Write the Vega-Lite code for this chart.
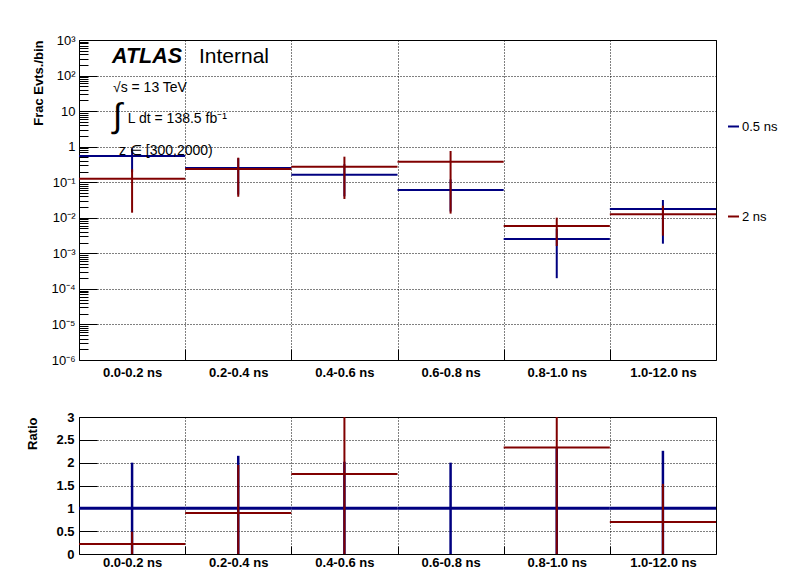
{
  "$schema": "https://vega.github.io/schema/vega-lite/v6.json",
  "autosize": {"type": "pad"},
  "padding": {"left": 26, "top": 33, "right": 0, "bottom": 0},
  "background": "white",
  "config": {
    "font": "Liberation Sans",
    "view": {"stroke": "black", "strokeWidth": 1},
    "axis": {"gridColor": "black", "gridDash": [1, 2], "gridWidth": 1, "gridOpacity": 1, "tickColor": "black", "tickWidth": 1, "labelColor": "black", "titleColor": "black", "domain": false, "labelFont": "Liberation Sans", "titleFont": "Liberation Sans"},
    "legend": {"labelFont": "Liberation Sans"}
  },
  "datasets": {
    "top": [
      {"bin": "0.0-0.2 ns", "i0": 0, "i1": 1, "mid": 0.5, "series": "0.5 ns", "val": 0.547, "lo": 0.19, "hi": 0.9},
      {"bin": "0.2-0.4 ns", "i0": 1, "i1": 2, "mid": 1.5, "series": "0.5 ns", "val": 0.25, "lo": 0.045, "hi": 0.471},
      {"bin": "0.4-0.6 ns", "i0": 2, "i1": 3, "mid": 2.5, "series": "0.5 ns", "val": 0.163, "lo": 0.04, "hi": 0.32},
      {"bin": "0.6-0.8 ns", "i0": 3, "i1": 4, "mid": 3.5, "series": "0.5 ns", "val": 0.0605, "lo": 0.015, "hi": 0.12},
      {"bin": "0.8-1.0 ns", "i0": 4, "i1": 5, "mid": 4.5, "series": "0.5 ns", "val": 0.00254, "lo": 0.0002, "hi": 0.0049},
      {"bin": "1.0-12.0 ns", "i0": 5, "i1": 6, "mid": 5.5, "series": "0.5 ns", "val": 0.01767, "lo": 0.00187, "hi": 0.0316},
      {"bin": "0.0-0.2 ns", "i0": 0, "i1": 1, "mid": 0.5, "series": "2 ns", "val": 0.126, "lo": 0.0139, "hi": 0.231},
      {"bin": "0.2-0.4 ns", "i0": 1, "i1": 2, "mid": 1.5, "series": "2 ns", "val": 0.235, "lo": 0.039, "hi": 0.49},
      {"bin": "0.4-0.6 ns", "i0": 2, "i1": 3, "mid": 2.5, "series": "2 ns", "val": 0.273, "lo": 0.0338, "hi": 0.523},
      {"bin": "0.6-0.8 ns", "i0": 3, "i1": 4, "mid": 3.5, "series": "2 ns", "val": 0.378, "lo": 0.0131, "hi": 0.756},
      {"bin": "0.8-1.0 ns", "i0": 4, "i1": 5, "mid": 4.5, "series": "2 ns", "val": 0.00588, "lo": 0.00161, "hi": 0.01007},
      {"bin": "1.0-12.0 ns", "i0": 5, "i1": 6, "mid": 5.5, "series": "2 ns", "val": 0.01253, "lo": 0.00314, "hi": 0.0219}
    ],
    "ratio": [
      {"bin": "0.0-0.2 ns", "i0": 0, "i1": 1, "mid": 0.5, "series": "0.5 ns", "val": 1, "lo": 0.0, "hi": 2.0},
      {"bin": "0.2-0.4 ns", "i0": 1, "i1": 2, "mid": 1.5, "series": "0.5 ns", "val": 1, "lo": -0.15, "hi": 2.15},
      {"bin": "0.4-0.6 ns", "i0": 2, "i1": 3, "mid": 2.5, "series": "0.5 ns", "val": 1, "lo": -0.02, "hi": 2.02},
      {"bin": "0.6-0.8 ns", "i0": 3, "i1": 4, "mid": 3.5, "series": "0.5 ns", "val": 1, "lo": 0.0, "hi": 2.0},
      {"bin": "0.8-1.0 ns", "i0": 4, "i1": 5, "mid": 4.5, "series": "0.5 ns", "val": 1, "lo": -0.32, "hi": 2.32},
      {"bin": "1.0-12.0 ns", "i0": 5, "i1": 6, "mid": 5.5, "series": "0.5 ns", "val": 1, "lo": -0.26, "hi": 2.26},
      {"bin": "0.0-0.2 ns", "i0": 0, "i1": 1, "mid": 0.5, "series": "2 ns", "val": 0.22, "lo": -0.05, "hi": 0.49},
      {"bin": "0.2-0.4 ns", "i0": 1, "i1": 2, "mid": 1.5, "series": "2 ns", "val": 0.9, "lo": -0.15, "hi": 1.95},
      {"bin": "0.4-0.6 ns", "i0": 2, "i1": 3, "mid": 2.5, "series": "2 ns", "val": 1.75, "lo": -0.1, "hi": 3.6},
      {"bin": "0.6-0.8 ns", "i0": 3, "i1": 4, "mid": 3.5, "series": "2 ns", "val": 6.25, "lo": null, "hi": null},
      {"bin": "0.8-1.0 ns", "i0": 4, "i1": 5, "mid": 4.5, "series": "2 ns", "val": 2.33, "lo": -0.1, "hi": 4.76},
      {"bin": "1.0-12.0 ns", "i0": 5, "i1": 6, "mid": 5.5, "series": "2 ns", "val": 0.7, "lo": -0.13, "hi": 1.535}
    ],
    "notes": [{"atlas": "ATLAS", "internal": "Internal", "energy": "√s = 13 TeV", "integral": "∫", "lumi": "L dt = 138.5 fb⁻¹", "region": "z ∈ [300,2000)"}]
  },
  "vconcat": [
    {
      "width": 637,
      "height": 320,
      "resolve": {"axis": {"x": "independent", "y": "independent"}},
      "layer": [
        {
          "data": {"name": "top"},
          "transform": [{"filter": "datum.series === '0.5 ns'"}],
          "mark": {"type": "rule", "strokeWidth": 2, "clip": true},
          "encoding": {
            "x": {"field": "i0", "type": "quantitative", "scale": {"domain": [0, 6], "nice": false, "zero": false},
              "axis": {"orient": "bottom", "values": [0, 1, 2, 3, 4, 5, 6], "labelExpr": "datum.value < 6 ? ['0.0-0.2 ns','0.2-0.4 ns','0.4-0.6 ns','0.6-0.8 ns','0.8-1.0 ns','1.0-12.0 ns'][datum.value] : ''", "labelOffset": 53.08, "labelFlush": false, "labelOverlap": false, "labelBound": false, "ticks": false, "labelPadding": 6, "labelFontSize": 13, "labelFontWeight": "bold", "grid": true, "title": null}},
            "x2": {"field": "i1"},
            "y": {"field": "val", "type": "quantitative", "scale": {"type": "log", "domain": [0.000001, 1000], "nice": false},
              "axis": {"orient": "left", "values": [0.000001, 0.00001, 0.0001, 0.001, 0.01, 0.1, 1, 10, 100, 1000], "labelExpr": "['10⁻⁶','10⁻⁵','10⁻⁴','10⁻³','10⁻²','10⁻¹','1','10','10²','10³'][round(log(datum.value)/LN10)+6]", "ticks": false, "labelPadding": 4, "labelFontSize": 13, "labelOverlap": false, "grid": true, "title": "Frac Evts./bin", "titleFontSize": 13, "titleFontWeight": "bold", "titleAnchor": "end", "titlePadding": 5}},
            "color": {"field": "series", "type": "nominal", "scale": {"domain": ["0.5 ns", "2 ns"], "range": ["#000080", "#800000"]},
              "legend": {"orient": "none", "legendX": 648, "legendY": 80, "title": null, "symbolType": "stroke", "symbolSize": 121, "symbolStrokeWidth": 2, "labelFontSize": 13, "labelOffset": 2, "rowPadding": 76, "padding": 0}}
          }
        },
        {
          "data": {"name": "top"},
          "transform": [{"filter": "datum.series === '0.5 ns'"}],
          "mark": {"type": "rule", "strokeWidth": 2, "clip": true},
          "encoding": {
            "x": {"field": "mid", "type": "quantitative",
              "axis": {"orient": "top", "offset": -320, "values": [1, 2, 3, 4, 5], "labels": false, "ticks": true, "tickSize": 11, "grid": false, "title": null}},
            "y": {"field": "lo", "type": "quantitative",
              "axis": {"orient": "right", "offset": -637, "values": [0.000001, 0.00001, 0.0001, 0.001, 0.01, 0.1, 1, 10, 100, 1000], "labels": false, "ticks": true, "tickSize": 18, "grid": false, "title": null}},
            "y2": {"field": "hi"},
            "color": {"field": "series", "type": "nominal"}
          }
        },
        {
          "data": {"name": "top"},
          "transform": [{"filter": "datum.series === '2 ns'"}],
          "mark": {"type": "rule", "strokeWidth": 2, "clip": true},
          "encoding": {
            "x": {"field": "i0", "type": "quantitative", "axis": null},
            "x2": {"field": "i1"},
            "y": {"field": "val", "type": "quantitative",
              "axis": {"orient": "right", "offset": -637, "values": [0.000002,0.000003,0.000004,0.000005,0.000006,0.000007,0.000008,0.000009,0.00002,0.00003,0.00004,0.00005,0.00006,0.00007,0.00008,0.00009,0.0002,0.0003,0.0004,0.0005,0.0006,0.0007,0.0008,0.0009,0.002,0.003,0.004,0.005,0.006,0.007,0.008,0.009,0.02,0.03,0.04,0.05,0.06,0.07,0.08,0.09,0.2,0.3,0.4,0.5,0.6,0.7,0.8,0.9,2,3,4,5,6,7,8,9,20,30,40,50,60,70,80,90,200,300,400,500,600,700,800,900], "labels": false, "ticks": true, "tickSize": 9, "grid": false, "title": null}},
            "color": {"field": "series", "type": "nominal"}
          }
        },
        {
          "data": {"name": "top"},
          "transform": [{"filter": "datum.series === '2 ns'"}],
          "mark": {"type": "rule", "strokeWidth": 2, "clip": true},
          "encoding": {
            "x": {"field": "mid", "type": "quantitative", "axis": null},
            "y": {"field": "lo", "type": "quantitative", "axis": null},
            "y2": {"field": "hi"},
            "color": {"field": "series", "type": "nominal"}
          }
        },
        {
          "data": {"name": "notes"},
          "mark": {"type": "text", "align": "left", "baseline": "alphabetic", "fontSize": 21.5, "fontWeight": "bold", "fontStyle": "italic", "color": "black"},
          "encoding": {"x": {"datum": 0.311, "axis": null}, "y": {"datum": 225, "axis": null}, "text": {"field": "atlas"}}
        },
        {
          "data": {"name": "notes"},
          "mark": {"type": "text", "align": "left", "baseline": "alphabetic", "fontSize": 21, "color": "black"},
          "encoding": {"x": {"datum": 1.13, "axis": null}, "y": {"datum": 225, "axis": null}, "text": {"field": "internal"}}
        },
        {
          "data": {"name": "notes"},
          "mark": {"type": "text", "align": "left", "baseline": "alphabetic", "fontSize": 14, "color": "black"},
          "encoding": {"x": {"datum": 0.32, "axis": null}, "y": {"datum": 35.2, "axis": null}, "text": {"field": "energy"}}
        },
        {
          "data": {"name": "notes"},
          "mark": {"type": "text", "align": "left", "baseline": "alphabetic", "fontSize": 34, "color": "black"},
          "encoding": {"x": {"datum": 0.32, "axis": null}, "y": {"datum": 3.5, "axis": null}, "text": {"field": "integral"}}
        },
        {
          "data": {"name": "notes"},
          "mark": {"type": "text", "align": "left", "baseline": "alphabetic", "fontSize": 14, "color": "black"},
          "encoding": {"x": {"datum": 0.46, "axis": null}, "y": {"datum": 4.72, "axis": null}, "text": {"field": "lumi"}}
        },
        {
          "data": {"name": "notes"},
          "mark": {"type": "text", "align": "left", "baseline": "alphabetic", "fontSize": 14, "color": "black"},
          "encoding": {"x": {"datum": 0.377, "axis": null}, "y": {"datum": 0.6, "axis": null}, "text": {"field": "region"}}
        }
      ]
    },
    {
      "width": 637,
      "height": 137,
      "data": {"name": "ratio"},
      "resolve": {"axis": {"x": "independent", "y": "independent"}},
      "layer": [
        {
          "transform": [{"filter": "datum.series === '0.5 ns'"}],
          "mark": {"type": "rule", "strokeWidth": 3, "clip": true},
          "encoding": {
            "x": {"field": "i0", "type": "quantitative", "scale": {"domain": [0, 6], "nice": false, "zero": false},
              "axis": {"orient": "bottom", "values": [0, 1, 2, 3, 4, 5, 6], "labelExpr": "datum.value < 6 ? ['0.0-0.2 ns','0.2-0.4 ns','0.4-0.6 ns','0.6-0.8 ns','0.8-1.0 ns','1.0-12.0 ns'][datum.value] : ''", "labelOffset": 53.08, "labelFlush": false, "labelOverlap": false, "labelBound": false, "ticks": false, "labelPadding": 2, "labelFontSize": 13, "labelFontWeight": "bold", "grid": true, "title": null}},
            "x2": {"field": "i1"},
            "y": {"field": "val", "type": "quantitative", "scale": {"domain": [0, 3], "nice": false, "zero": false},
              "axis": {"orient": "left", "values": [0, 0.5, 1, 1.5, 2, 2.5, 3], "labelExpr": "'' + datum.value", "ticks": false, "labelPadding": 5, "labelFontSize": 13, "labelFontWeight": "bold", "labelOverlap": false, "grid": true, "title": "Ratio", "titleFontSize": 13, "titleFontWeight": "bold", "titleAnchor": "end", "titlePadding": 16}},
            "color": {"field": "series", "type": "nominal", "scale": {"domain": ["0.5 ns", "2 ns"], "range": ["#000080", "#800000"]}, "legend": null}
          }
        },
        {
          "transform": [{"filter": "datum.series === '0.5 ns'"}],
          "mark": {"type": "rule", "strokeWidth": 2.5, "clip": true},
          "encoding": {
            "x": {"field": "mid", "type": "quantitative",
              "axis": {"orient": "top", "offset": -137, "values": [1, 2, 3, 4, 5], "labels": false, "ticks": true, "tickSize": 8, "grid": false, "title": null}},
            "y": {"field": "lo", "type": "quantitative",
              "axis": {"orient": "right", "offset": -637, "values": [0.5, 1, 1.5, 2, 2.5], "labels": false, "ticks": true, "tickSize": 18, "grid": false, "title": null}},
            "y2": {"field": "hi"},
            "color": {"field": "series", "type": "nominal", "legend": null}
          }
        },
        {
          "transform": [{"filter": "datum.series === '2 ns'"}],
          "mark": {"type": "rule", "strokeWidth": 2, "clip": true},
          "encoding": {
            "x": {"field": "i0", "type": "quantitative", "axis": null},
            "x2": {"field": "i1"},
            "y": {"field": "val", "type": "quantitative", "axis": null},
            "color": {"field": "series", "type": "nominal", "legend": null}
          }
        },
        {
          "transform": [{"filter": "datum.series === '2 ns' && isValid(datum.lo)"}],
          "mark": {"type": "rule", "strokeWidth": 2, "clip": true},
          "encoding": {
            "x": {"field": "mid", "type": "quantitative", "axis": null},
            "y": {"field": "lo", "type": "quantitative", "axis": null},
            "y2": {"field": "hi"},
            "color": {"field": "series", "type": "nominal", "legend": null}
          }
        }
      ]
    }
  ],
  "spacing": 57,
  "bounds": "flush",
  "resolve": {"legend": {"color": "independent"}}
}
